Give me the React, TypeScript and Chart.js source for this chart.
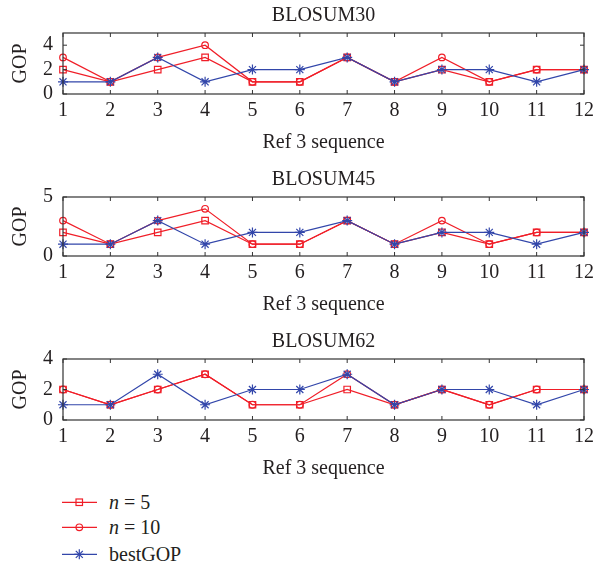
import React, { useEffect, useRef } from "react";
import { Chart, registerables } from "chart.js";
Chart.register(...registerables);

const sequences = ["1", "2", "3", "4", "5", "6", "7", "8", "9", "10", "11", "12"];

const b30N5 = [2, 1, 2, 3, 1, 1, 3, 1, 2, 1, 2, 2];
const b30N10 = [3, 1, 3, 4, 1, 1, 3, 1, 3, 1, 2, 2];
const b30Best = [1, 1, 3, 1, 2, 2, 3, 1, 2, 2, 1, 2];
const b30YTicks = [0, 2, 4];

const b45N5 = [2, 1, 2, 3, 1, 1, 3, 1, 2, 1, 2, 2];
const b45N10 = [3, 1, 3, 4, 1, 1, 3, 1, 3, 1, 2, 2];
const b45Best = [1, 1, 3, 1, 2, 2, 3, 1, 2, 2, 1, 2];
const b45YTicks = [0, 5];

const b62N5 = [2, 1, 2, 3, 1, 1, 2, 1, 2, 1, 2, 2];
const b62N10 = [2, 1, 2, 3, 1, 1, 3, 1, 2, 1, 2, 2];
const b62Best = [1, 1, 3, 1, 2, 2, 3, 1, 2, 2, 1, 2];
const b62YTicks = [0, 2, 4];

const FONT = "'Liberation Serif', 'Times New Roman', serif";
const TEXT = "#231f20";
const RED = "rgb(240,30,40)";
const BLUE = "rgb(50,70,170)";

const framePlugin = {
  id: "matlabFrame",
  afterDraw(chart: any) {
    const { ctx, chartArea } = chart;
    const xs = chart.scales.x;
    const ys = chart.scales.y;
    const yt: number[] = chart.options.plugins.matlabFrame.yTicks;
    ctx.save();
    ctx.strokeStyle = "#333";
    ctx.lineWidth = 1.2;
    ctx.strokeRect(chartArea.left, chartArea.top, chartArea.right - chartArea.left, chartArea.bottom - chartArea.top);
    ctx.lineWidth = 1;
    const L = 4;
    ctx.beginPath();
    for (let i = 0; i < sequences.length; i++) {
      const px = xs.getPixelForTick(i);
      ctx.moveTo(px, chartArea.bottom);
      ctx.lineTo(px, chartArea.bottom - L);
      ctx.moveTo(px, chartArea.top);
      ctx.lineTo(px, chartArea.top + L);
    }
    for (const v of yt) {
      const py = ys.getPixelForValue(v);
      ctx.moveTo(chartArea.left, py);
      ctx.lineTo(chartArea.left + L, py);
      ctx.moveTo(chartArea.right, py);
      ctx.lineTo(chartArea.right - L, py);
    }
    ctx.stroke();
    ctx.restore();
  },
};

type PanelProps = {
  top: number;
  height: number;
  title: string;
  n5: number[];
  n10: number[];
  best: number[];
  yMax: number;
  yTicks: number[];
};

function Panel({ top, height, title, n5, n10, best, yMax, yTicks }: PanelProps) {
  const ref = useRef<HTMLCanvasElement>(null);
  useEffect(() => {
    if (!ref.current) return;
    const chart = new Chart(ref.current, {
      type: "line",
      data: {
        labels: sequences,
        datasets: [
          {
            label: "n = 5",
            data: n5,
            borderColor: RED,
            backgroundColor: "transparent",
            pointBackgroundColor: "transparent",
            pointBorderColor: RED,
            pointStyle: "rect",
            pointRadius: 4.6,
            pointBorderWidth: 1.2,
            borderWidth: 1.2,
            tension: 0,
            clip: false,
            order: 2,
          },
          {
            label: "n = 10",
            data: n10,
            borderColor: RED,
            backgroundColor: "transparent",
            pointBackgroundColor: "transparent",
            pointBorderColor: RED,
            pointStyle: "circle",
            pointRadius: 3.3,
            pointBorderWidth: 1.2,
            borderWidth: 1.2,
            tension: 0,
            clip: false,
            order: 1,
          },
          {
            label: "bestGOP",
            data: best,
            borderColor: BLUE,
            backgroundColor: "transparent",
            pointBackgroundColor: BLUE,
            pointBorderColor: BLUE,
            pointStyle: "star",
            pointRadius: 5,
            pointBorderWidth: 1.2,
            borderWidth: 1.2,
            tension: 0,
            clip: false,
            order: 0,
          },
        ],
      },
      options: {
        responsive: false,
        animation: false,
        layout: { padding: { left: 0, right: 0, top: 0, bottom: 0 } },
        plugins: {
          legend: { display: false },
          tooltip: { enabled: false },
          title: {
            display: true,
            fullSize: false,
            text: title,
            color: TEXT,
            font: { family: FONT, size: 20, weight: "normal" },
            padding: { top: 4, bottom: 5 },
          },
          matlabFrame: { yTicks },
        } as any,
        scales: {
          x: {
            type: "category",
            offset: false,
            grid: { display: false, drawTicks: false },
            border: { display: false },
            ticks: { color: TEXT, font: { family: FONT, size: 20 }, padding: 5, maxRotation: 0, autoSkip: false },
            title: {
              display: true,
              text: "Ref 3 sequence",
              color: TEXT,
              font: { family: FONT, size: 20 },
              padding: { top: 0, bottom: 0 },
            },
            afterFit: (s: any) => {
              s.height = 61;
              s.paddingRight = 10;
              s.paddingLeft = 0;
            },
          },
          y: {
            min: 0,
            max: yMax,
            grid: { display: false, drawTicks: false },
            border: { display: false },
            ticks: { color: TEXT, font: { family: FONT, size: 20 }, padding: 10 },
            afterBuildTicks: (s: any) => {
              s.ticks = yTicks.map((v) => ({ value: v }));
            },
            title: {
              display: true,
              text: "GOP",
              color: TEXT,
              font: { family: FONT, size: 20 },
              padding: { top: 9, bottom: 0 },
            },
            afterFit: (s: any) => {
              s.width = 63;
            },
          },
        },
      },
      plugins: [framePlugin],
    });
    return () => chart.destroy();
  }, []);
  return (
    <canvas
      ref={ref}
      width={594}
      height={height}
      style={{ position: "absolute", left: 0, top, width: 594, height }}
    />
  );
}

function LegendRow({ top, kind, children }: { top: number; kind: string; children: any }) {
  const color = kind === "star" ? BLUE : RED;
  let marker: any = null;
  if (kind === "rect") marker = <rect x={14} y={9} width={6.5} height={6.5} fill="none" stroke={color} strokeWidth={1.2} />;
  if (kind === "circle") marker = <circle cx={17.3} cy={12.3} r={3.3} fill="none" stroke={color} strokeWidth={1.2} />;
  if (kind === "star")
    marker = (
      <g stroke={color} strokeWidth={1.2}>
        <line x1={17.3} y1={7.3} x2={17.3} y2={17.3} />
        <line x1={12.3} y1={12.3} x2={22.3} y2={12.3} />
        <line x1={13.8} y1={8.8} x2={20.8} y2={15.8} />
        <line x1={13.8} y1={15.8} x2={20.8} y2={8.8} />
      </g>
    );
  return (
    <div style={{ position: "absolute", left: 62, top: top - 12, height: 24, width: 200 }}>
      <svg width={36} height={24} style={{ position: "absolute", left: 0, top: 0 }}>
        <line x1={0} y1={12.3} x2={35} y2={12.3} stroke={color} strokeWidth={1.2} />
        {marker}
      </svg>
      <div
        style={{
          position: "absolute",
          left: 47,
          top: 0,
          lineHeight: "24px",
          fontFamily: FONT,
          fontSize: 20,
          color: TEXT,
          whiteSpace: "pre",
        }}
      >
        {children}
      </div>
    </div>
  );
}

export default function App() {
  return (
    <div style={{ position: "absolute", left: 0, top: 0, width: 594, height: 566, background: "#fff" }}>
      <Panel top={0} height={155} title="BLOSUM30" n5={b30N5} n10={b30N10} best={b30Best} yMax={5} yTicks={b30YTicks} />
      <Panel top={164} height={153} title="BLOSUM45" n5={b45N5} n10={b45N10} best={b45Best} yMax={5} yTicks={b45YTicks} />
      <Panel top={326} height={155} title="BLOSUM62" n5={b62N5} n10={b62N10} best={b62Best} yMax={4} yTicks={b62YTicks} />
      <LegendRow top={502} kind="rect">
        <i>n</i> = 5
      </LegendRow>
      <LegendRow top={527} kind="circle">
        <i>n</i> = 10
      </LegendRow>
      <LegendRow top={554} kind="star">
        bestGOP
      </LegendRow>
    </div>
  );
}
